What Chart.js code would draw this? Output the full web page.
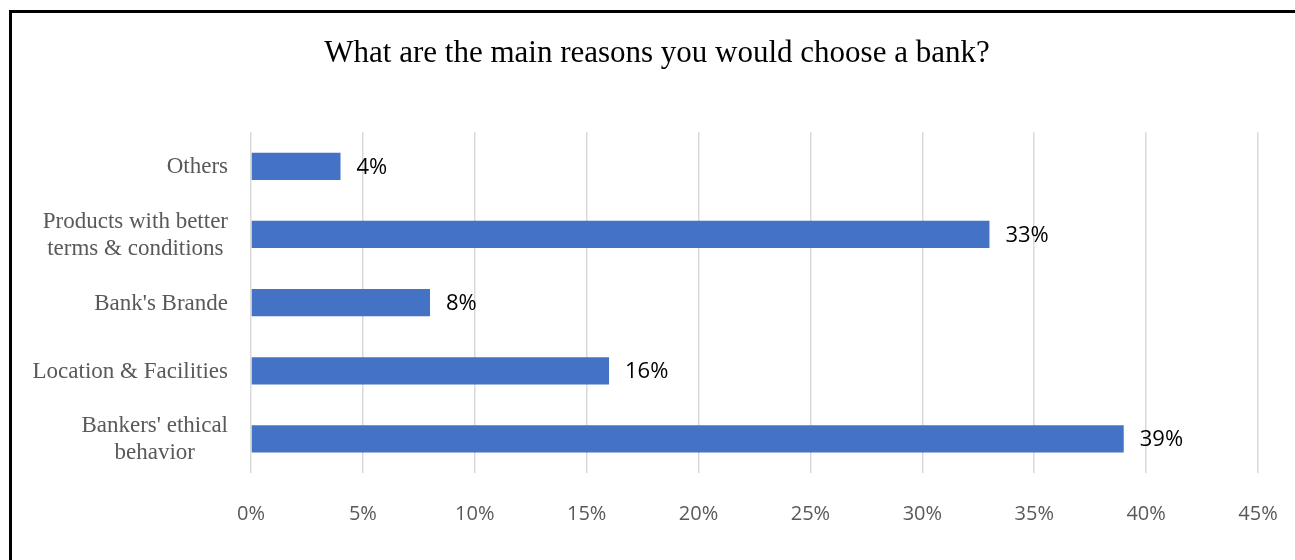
<!DOCTYPE html>
<html lang="en">
<head>
  <meta charset="UTF-8">
  <title>Bank choice reasons</title>
  <style>
    html, body {
      margin: 0;
      padding: 0;
      background: #ffffff;
      overflow: hidden;
    }
    /* framed box, right and bottom edges run off the page like the source */
    .frame {
      position: absolute;
      left: 9px;
      top: 10px;
      width: 1295px;
      height: 560px;
      border: 3px solid #000;
      background: #fff;
    }
  </style>
  <script src="https://cdn.jsdelivr.net/npm/chart.js"></script>
</head>
<body>
  <div class="frame">
    <canvas id="chart" width="1295" height="560"></canvas>
  </div>
  <script>
    // chart data
    const categories = [
      ['Others'],
      ['Products with better', 'terms & conditions'],
      ["Bank's Brande"],
      ['Location & Facilities'],
      ["Bankers' ethical", 'behavior']
    ];
    const shares = [4, 33, 8, 16, 39];
    const xTicks = [0, 5, 10, 15, 20, 25, 30, 35, 40, 45];
    const title = 'What are the main reasons you would choose a bank?';

    // draws the category names: block right-aligned, lines centred inside it (Excel style)
    const categoryLabels = {
      id: 'categoryLabels',
      afterDraw(chart) {
        const ctx = chart.ctx;
        const yScale = chart.scales.y;
        const right = chart.chartArea.left - 23;
        ctx.save();
        ctx.font = '23px "Liberation Serif", "Times New Roman", serif';
        ctx.fillStyle = '#595959';
        ctx.textAlign = 'center';
        ctx.textBaseline = 'middle';
        const lineH = 27;
        categories.forEach((lines, i) => {
          const cy = yScale.getPixelForValue(i) + 1;
          const w = Math.max(...lines.map(l => ctx.measureText(l).width));
          const cx = right - w / 2;
          lines.forEach((l, j) => {
            const y = cy + (j - (lines.length - 1) / 2) * lineH;
            ctx.fillText(l, cx, y);
          });
        });
        ctx.restore();
      }
    };

    // value labels just past the end of each bar
    const valueLabels = {
      id: 'valueLabels',
      afterDatasetsDraw(chart) {
        const ctx = chart.ctx;
        const meta = chart.getDatasetMeta(0);
        ctx.save();
        ctx.font = '22px "Open Sans", sans-serif';
        ctx.fillStyle = '#000';
        ctx.textAlign = 'left';
        ctx.textBaseline = 'middle';
        meta.data.forEach((bar, i) => {
          ctx.fillText(shares[i] + '%', bar.x + 16, bar.y + 1);
        });
        ctx.restore();
      }
    };

    new Chart(document.getElementById('chart'), {
      type: 'bar',
      data: {
        labels: categories.map(c => c.join(' ')),
        datasets: [{
          data: shares,
          backgroundColor: '#4472C4',
          borderWidth: 0,
          categoryPercentage: 1,
          barPercentage: 0.4
        }]
      },
      options: {
        indexAxis: 'y',
        responsive: false,
        animation: false,
        layout: { padding: { left: 44, right: 49, top: 0, bottom: 0 } },
        plugins: {
          legend: { display: false },
          tooltip: { enabled: false },
          title: {
            display: true,
            text: title,
            color: '#000',
            font: { family: '"Liberation Serif", "Times New Roman", serif', size: 31, weight: 'normal', lineHeight: 1.2 },
            padding: { top: 22, bottom: 60 }
          }
        },
        scales: {
          x: {
            min: 0,
            max: 45,
            afterBuildTicks(scale) {
              scale.ticks = xTicks.map(v => ({ value: v }));
            },
            afterFit(scale) { scale.height = 100; },
            grid: { color: '#d9d9d9', lineWidth: 1.5, drawTicks: false },
            border: { display: false },
            ticks: {
              padding: 29,
              color: '#595959',
              font: { family: '"Open Sans", sans-serif', size: 20 },
              callback: v => v + '%'
            }
          },
          y: {
            afterFit(scale) { scale.width = 195; },
            grid: { display: false },
            border: { display: false },
            ticks: { display: false }
          }
        }
      },
      plugins: [categoryLabels, valueLabels]
    });
  </script>
</body>
</html>
